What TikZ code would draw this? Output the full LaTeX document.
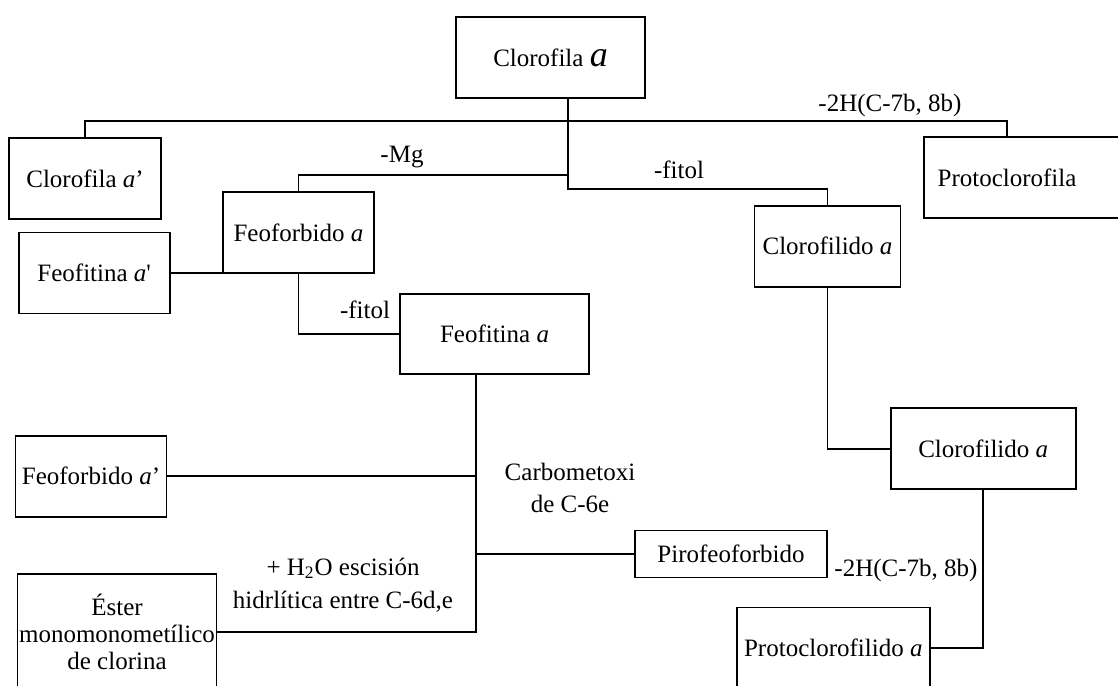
\documentclass[tikz,border=0pt]{standalone}
\usepackage{fontspec}
\setmainfont{Liberation Serif}

\begin{document}
\begin{tikzpicture}[x=0.5pt, y=-0.5pt, line width=0.9pt,
    box/.style={draw, rectangle, inner sep=0pt, align=center,
      font=\fontsize{12.5}{13.5}\selectfont},
    lbl/.style={inner sep=0pt, align=center,
      font=\fontsize{12.5}{16.4}\selectfont}]
    \useasboundingbox (0, 0) rectangle (1118, 685);
    % boxes
    \node[box, minimum width=94.5pt, minimum height=40.5pt] (cla) at (550.5, 57.5)
      {Clorofila {\fontsize{18}{18}\selectfont\itshape a}};
    \node[box, minimum width=76pt, minimum height=40.5pt] (claP) at (85, 178.5) {Clorofila \textit{a}’};
    \node[box, anchor=west, align=left, text width=88pt, inner xsep=6.85pt,
      minimum height=40.5pt] (pcl) at (923, 177.5) {Protoclorofila};
    \node[box, minimum width=75.5pt, minimum height=40.5pt] (feo) at (298.5, 232.5) {Feoforbido \textit{a}};
    \node[box, minimum width=75.5pt, minimum height=40.5pt] (feftP) at (94.2, 273)
      {Feofitina \textit{a}\textquotesingle};
    \node[box, minimum width=94.5pt, minimum height=40pt] (feft) at (494.5, 334) {Feofitina \textit{a}};
    \node[box, minimum width=73pt, minimum height=40.5pt] (clda) at (827.5, 246.3) {Clorofilido \textit{a}};
    \node[box, minimum width=92.5pt, minimum height=40.5pt] (cldb) at (983.2, 448.7) {Clorofilido \textit{a}};
    \node[box, minimum width=96.5pt, minimum height=40.5pt] (pcld) at (833.3, 648) {Protoclorofilido \textit{a}};
    \node[box, minimum width=96pt, minimum height=23.5pt] (piro) at (731, 554) {Pirofeoforbido};
    \node[box, minimum width=75.5pt, minimum height=40.5pt] (feoP) at (91, 476.3) {Feoforbido \textit{a}’};
    \node[box, minimum width=99.5pt, minimum height=58pt] (ester) at (117, 632)
      {Éster\\monomonometílico\\de clorina};
    % branch points
    \coordinate (j1) at (568, 121);
    \coordinate (j2) at (568, 189);
    \coordinate (j3) at (568, 175);
    \coordinate (trunk) at (476, 631);
    % connectors
    \draw (claP.north) |- (j1) -| ([xshift=42pt]pcl.north west);
    \draw (cla.south -| j1) -- (j2) -| (clda.north);
    \draw (j3) -| (feo.north);
    \draw (feftP.east) -- (feftP.east -| feo.west);
    \draw (feo.south) |- (feft.west);
    \draw (clda.south) |- (cldb.west);
    \draw (cldb.south) |- (pcld.east);
    \draw (feft.south -| trunk) |- (ester.east);
    \draw (feoP.east) -- (feoP.east -| trunk);
    \draw (piro.west -| trunk) -- (piro.west);
    % labels
    \node[lbl] (mg) at (402, 157) {-Mg};
    \node[lbl] (fitolA) at (365, 310) {-fitol};
    \node[lbl] (fitolB) at (679, 170) {-fitol};
    \node[lbl] (dh2A) at (890, 105) {-2H(C-7b, 8b)};
    \node[lbl] (dh2B) at (906, 570) {-2H(C-7b, 8b)};
    \node[lbl] (cmx) at (570, 488) {Carbometoxi\\de C-6e};
    \node[lbl] (hyd) at (343, 585) {+ H\textsubscript{2}O escisión\\hidrlítica entre C-6d,e};
\end{tikzpicture}
\end{document}
